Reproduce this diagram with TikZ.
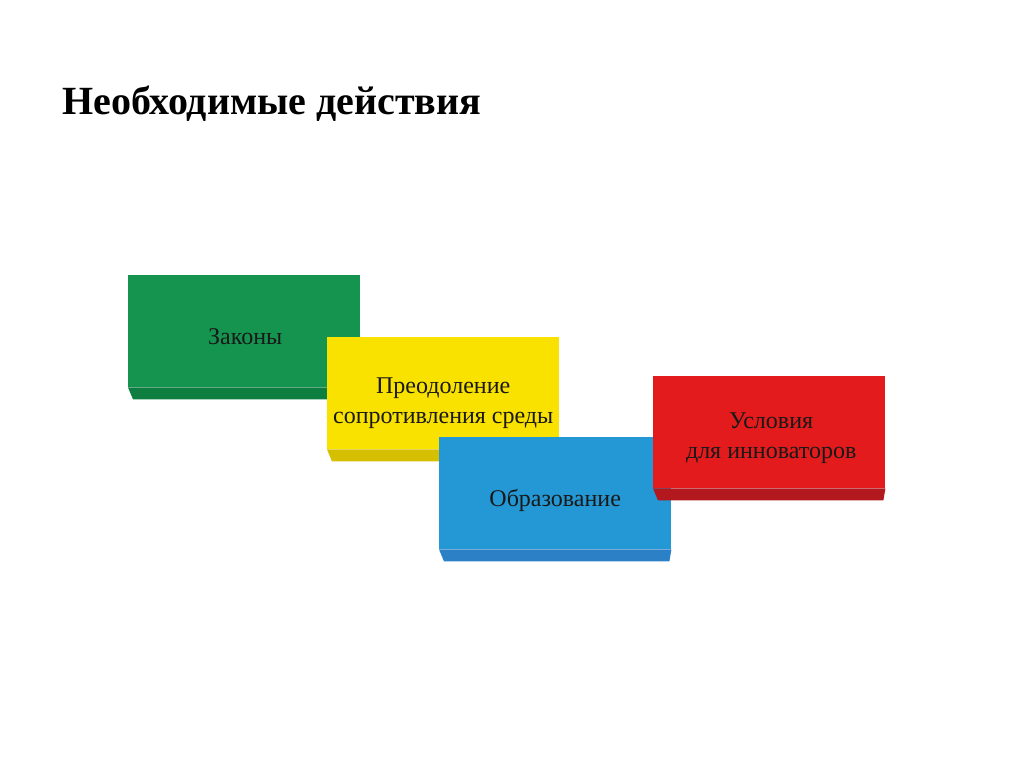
\documentclass[tikz,border=0pt]{standalone}
\usepackage{fontspec}
\setmainfont{Liberation Serif}
\begin{document}
\begin{tikzpicture}[x=1pt,y=-1pt,
  face/.style={fill=#1, minimum width=232pt, minimum height=112pt, inner sep=0pt, anchor=north west},
  lbl/.style={align=center, text=black!90, font=\fontsize{24}{30}\selectfont}]
\useasboundingbox (0,0) rectangle (1021,766);
\definecolor{gface}{HTML}{14944F}\definecolor{gside}{HTML}{0E7E40}
\definecolor{yface}{HTML}{F9E100}\definecolor{yside}{HTML}{D6BE00}
\definecolor{bface}{HTML}{2398D4}\definecolor{bside}{HTML}{2B80C6}
\definecolor{rface}{HTML}{E31B1D}\definecolor{rside}{HTML}{B3181E}
\node[anchor=base west, font=\fontsize{40}{48}\selectfont\bfseries, inner sep=0pt] (title) at (62,114) {Необходимые действия};
% green
\node[face=gface] (g) at (128,275) {};
\fill[gside] (g.south west) -- (g.south east) -- ([shift={(-2,12)}]g.south east) -- ([shift={(5,12)}]g.south west) -- cycle;
\node[lbl] (gt) at ([shift={(1,5)}]g.center) {Законы};
% yellow
\node[face=yface] (y) at (327,337) {};
\fill[yside] (y.south west) -- (y.south east) -- ([shift={(-2,12)}]y.south east) -- ([shift={(5,12)}]y.south west) -- cycle;
\node[lbl] (yt) at ([shift={(0,10)}]y.center) {Преодоление\\сопротивления среды};
% blue
\node[face=bface] (b) at (439,437) {};
\fill[bside] (b.south west) -- (b.south east) -- ([shift={(-2,12)}]b.south east) -- ([shift={(5,12)}]b.south west) -- cycle;
\node[lbl] (bt) at ([shift={(0,7)}]b.center) {Образование};
% red
\node[face=rface] (r) at (653,376) {};
\fill[rside] (r.south west) -- (r.south east) -- ([shift={(-2,12)}]r.south east) -- ([shift={(5,12)}]r.south west) -- cycle;
\node[lbl] (rt) at ([shift={(2,6)}]r.center) {Условия\\для инноваторов};
\end{tikzpicture}
\end{document}
